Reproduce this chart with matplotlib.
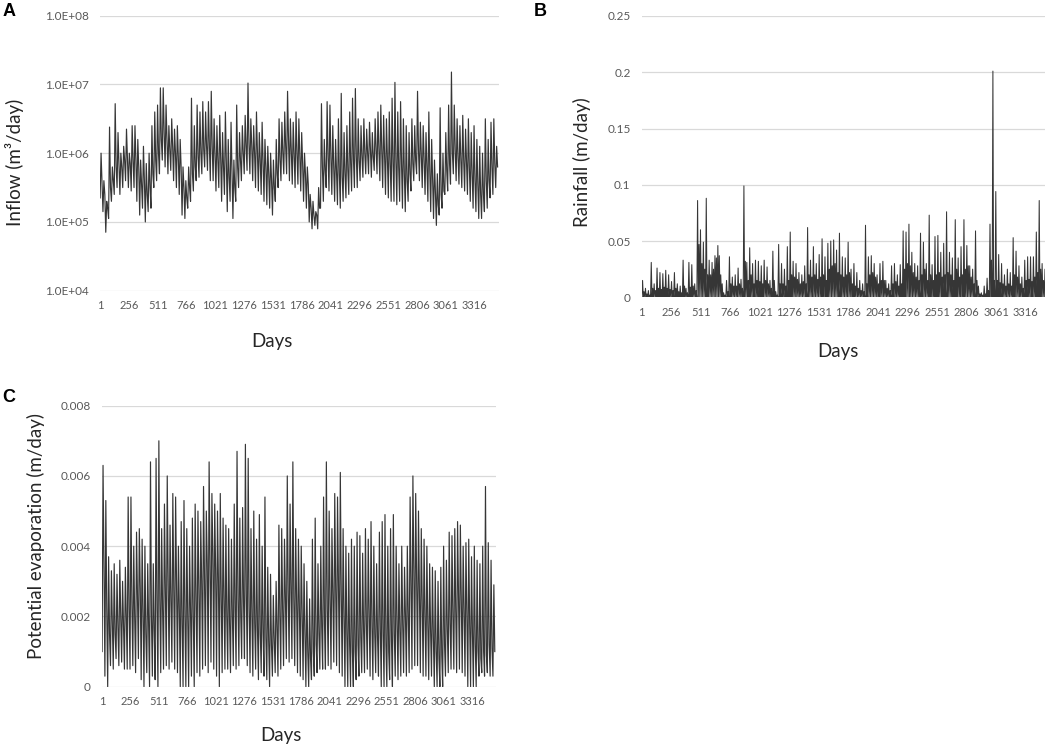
import numpy as np
from matplotlib import pyplot as plt
from matplotlib.ticker import FuncFormatter

plt.rcParams['font.family'] = ['Lato', 'DejaVu Sans']

# values, one entry per 25-day block
# inflow, log10(m3/day): low, high and typical level in each block
inflow_lo = [5.35, 5.15, 4.85, 5.05, 5.3, 5.4, 5.5, 5.4, 5.5, 5.6,
             5.5, 5.45, 5.5, 5.3, 5.1, 5.2, 5.0, 5.15, 5.2, 5.5,
             5.6, 5.7, 5.9, 5.8, 5.7, 5.75, 5.6, 5.5, 5.4, 5.1,
             5.05, 5.2, 5.3, 5.45, 5.6, 5.65, 5.7, 5.8, 5.75, 5.6,
             5.6, 5.45, 5.5, 5.3, 5.4, 5.15, 5.3, 5.05, 5.3, 5.5,
             5.6, 5.7, 5.75, 5.7, 5.6, 5.5, 5.45, 5.4, 5.3, 5.25,
             5.2, 5.1, 5.3, 5.5, 5.6, 5.7, 5.7, 5.6, 5.55, 5.5,
             5.55, 5.45, 5.3, 5.2, 5.0, 4.9, 4.95, 4.9, 5.2, 5.3,
             5.5, 5.45, 5.4, 5.3, 5.25, 5.2, 5.3, 5.35, 5.4, 5.45,
             5.5, 5.5, 5.6, 5.65, 5.7, 5.7, 5.65, 5.75, 5.7, 5.6,
             5.5, 5.4, 5.35, 5.3, 5.3, 5.25, 5.3, 5.2, 5.15, 5.3,
             5.45, 5.6, 5.7, 5.6, 5.5, 5.4, 5.3, 5.15, 5.05, 4.95,
             5.1, 5.2, 5.4, 5.45, 5.55, 5.7, 5.6, 5.55, 5.5, 5.45,
             5.4, 5.3, 5.2, 5.15, 5.05, 5.05, 5.15, 5.2, 5.35, 5.4, 5.5]
inflow_hi = [6.0, 5.6, 5.3, 6.38, 5.8, 6.72, 6.3, 6.0, 6.1, 6.35,
             6.0, 6.4, 6.4, 6.2, 5.9, 6.1, 5.85, 6.0, 6.4, 6.6,
             6.7, 6.95, 6.95, 6.7, 6.4, 6.5, 6.35, 6.4, 6.2, 5.8,
             5.6, 5.8, 6.8, 6.4, 6.7, 6.6, 6.75, 6.6, 6.75, 6.9,
             6.5, 6.4, 6.55, 6.3, 6.6, 6.2, 6.45, 5.9, 6.7, 6.3,
             6.4, 6.55, 7.02, 6.5, 6.4, 6.6, 6.3, 6.45, 6.2, 6.1,
             6.0, 5.9, 6.2, 6.5, 6.45, 6.6, 6.9, 6.5, 6.45, 6.6,
             6.5, 6.3, 6.0, 5.8, 5.4, 5.3, 5.15, 5.5, 6.72, 6.2,
             6.75, 6.7, 6.4, 6.2, 6.5, 6.87, 6.3, 6.4, 6.6, 6.8,
             6.94, 6.5, 6.4, 6.5, 6.35, 6.45, 6.3, 6.5, 6.6, 6.7,
             6.55, 6.5, 6.6, 6.8, 7.03, 6.6, 6.75, 6.5, 6.4, 6.3,
             6.5, 6.4, 6.9, 6.45, 6.4, 6.3, 6.6, 6.2, 5.9, 5.7,
             6.66, 6.0, 6.3, 6.7, 7.18, 6.7, 6.5, 6.4, 6.55, 6.35,
             6.5, 6.3, 6.4, 6.2, 6.1, 6.0, 6.5, 6.2, 6.45, 6.5, 6.1]
inflow_mid = [5.55, 5.4, 5.2, 5.5, 5.6, 5.8, 5.85, 5.8, 5.9, 5.9,
              5.85, 5.9, 5.9, 5.8, 5.55, 5.6, 5.4, 5.5, 5.7, 5.9,
              6.0, 6.2, 6.3, 6.2, 6.05, 6.1, 6.0, 5.95, 5.8, 5.5,
              5.35, 5.5, 5.7, 5.8, 5.95, 6.0, 6.05, 6.1, 6.1, 6.1,
              6.0, 5.9, 5.9, 5.8, 5.9, 5.65, 5.75, 5.5, 5.8, 5.9,
              6.0, 6.1, 6.15, 6.1, 6.0, 6.0, 5.9, 5.85, 5.8, 5.7,
              5.6, 5.5, 5.7, 5.9, 6.0, 6.1, 6.2, 6.05, 6.0, 6.0,
              5.95, 5.85, 5.7, 5.55, 5.2, 5.1, 5.1, 5.2, 5.8, 5.75,
              5.95, 5.95, 5.8, 5.7, 5.7, 5.65, 5.7, 5.75, 5.85, 5.9,
              5.95, 5.9, 5.95, 6.0, 6.0, 6.05, 5.95, 6.05, 6.05, 6.05,
              5.95, 5.9, 5.85, 5.85, 5.9, 5.8, 5.85, 5.7, 5.6, 5.7,
              5.85, 5.9, 6.05, 5.95, 5.9, 5.8, 5.75, 5.6, 5.4, 5.25,
              5.4, 5.45, 5.75, 5.85, 6.0, 6.05, 5.95, 5.9, 5.9, 5.85,
              5.8, 5.7, 5.6, 5.55, 5.4, 5.4, 5.6, 5.6, 5.8, 5.85, 5.8]

# rainfall, m/day: tallest event and typical wet-day level per block
rain_peak = [0.015, 0.008, 0.006, 0.031, 0.012, 0.026, 0.022, 0.021, 0.024, 0.02,
             0.014, 0.022, 0.012, 0.01, 0.033, 0.008, 0.031, 0.029, 0.012, 0.086,
             0.06, 0.049, 0.088, 0.033, 0.031, 0.037, 0.046, 0.02, 0.004, 0.015,
             0.036, 0.018, 0.02, 0.026, 0.016, 0.099, 0.031, 0.044, 0.03, 0.033,
             0.032, 0.028, 0.033, 0.027, 0.015, 0.041, 0.005, 0.047, 0.03, 0.025,
             0.045, 0.058, 0.032, 0.03, 0.022, 0.02, 0.028, 0.062, 0.033, 0.045,
             0.03, 0.038, 0.052, 0.036, 0.048, 0.05, 0.051, 0.042, 0.057, 0.036,
             0.035, 0.049, 0.025, 0.03, 0.022, 0.015, 0.012, 0.064, 0.036, 0.037,
             0.03, 0.02, 0.03, 0.032, 0.015, 0.012, 0.028, 0.03, 0.02, 0.029,
             0.059, 0.058, 0.065, 0.04, 0.03, 0.028, 0.057, 0.049, 0.03, 0.073,
             0.029, 0.054, 0.055, 0.04, 0.048, 0.076, 0.04, 0.035, 0.069, 0.035,
             0.045, 0.069, 0.046, 0.028, 0.025, 0.059, 0.01, 0.004, 0.01, 0.017,
             0.065, 0.201, 0.094, 0.038, 0.03, 0.02, 0.025, 0.022, 0.053, 0.041,
             0.028, 0.018, 0.033, 0.036, 0.036, 0.036, 0.058, 0.086, 0.03, 0.025, 0.02]
rain_core = [0.005, 0.003, 0.002, 0.008, 0.006, 0.008, 0.007, 0.009, 0.008, 0.007,
             0.006, 0.008, 0.005, 0.004, 0.01, 0.004, 0.009, 0.01, 0.006, 0.047,
             0.03, 0.025, 0.02, 0.02, 0.025, 0.035, 0.037, 0.012, 0.002, 0.005,
             0.012, 0.01, 0.01, 0.012, 0.008, 0.032, 0.015, 0.02, 0.012, 0.015,
             0.014, 0.012, 0.015, 0.012, 0.008, 0.015, 0.002, 0.012, 0.012, 0.01,
             0.015, 0.02, 0.018, 0.016, 0.012, 0.014, 0.012, 0.02, 0.018, 0.02,
             0.016, 0.018, 0.02, 0.015, 0.025, 0.028, 0.03, 0.022, 0.02, 0.018,
             0.02, 0.022, 0.012, 0.01, 0.008, 0.006, 0.005, 0.012, 0.02, 0.022,
             0.018, 0.012, 0.015, 0.015, 0.008, 0.006, 0.012, 0.014, 0.01, 0.012,
             0.025, 0.03, 0.028, 0.022, 0.018, 0.015, 0.02, 0.025, 0.015, 0.02,
             0.015, 0.02, 0.022, 0.018, 0.02, 0.022, 0.02, 0.015, 0.025, 0.018,
             0.02, 0.025, 0.028, 0.018, 0.012, 0.015, 0.003, 0.002, 0.003, 0.006,
             0.033, 0.015, 0.015, 0.013, 0.012, 0.01, 0.012, 0.01, 0.02, 0.018,
             0.012, 0.008, 0.015, 0.016, 0.014, 0.018, 0.022, 0.025, 0.015, 0.012, 0.01]

# potential evaporation, m/day
evap_lo = [0.0010, 0.0003, 0.0000, 0.0006, 0.0005, 0.0008, 0.0006, 0.0007, 0.0005, 0.0005,
           0.0005, 0.0006, 0.0004, 0.0008, 0.0002, 0.0000, 0.0004, 0.0000, 0.0003, 0.0002,
           0.0000, 0.0004, 0.0005, 0.0006, 0.0005, 0.0007, 0.0005, 0.0004, 0.0000, 0.0000,
           0.0000, 0.0000, 0.0003, 0.0000, 0.0004, 0.0003, 0.0005, 0.0006, 0.0004, 0.0007,
           0.0005, 0.0003, 0.0000, 0.0004, 0.0005, 0.0005, 0.0004, 0.0006, 0.0005, 0.0006,
           0.0008, 0.0008, 0.0006, 0.0004, 0.0003, 0.0005, 0.0002, 0.0004, 0.0003, 0.0002,
           0.0000, 0.0003, 0.0004, 0.0003, 0.0005, 0.0006, 0.0008, 0.0007, 0.0008, 0.0006,
           0.0004, 0.0003, 0.0002, 0.0000, 0.0000, 0.0002, 0.0003, 0.0004, 0.0005, 0.0005,
           0.0005, 0.0006, 0.0005, 0.0007, 0.0006, 0.0004, 0.0003, 0.0000, 0.0000, 0.0000,
           0.0000, 0.0002, 0.0003, 0.0004, 0.0004, 0.0005, 0.0003, 0.0002, 0.0004, 0.0003,
           0.0000, 0.0000, 0.0000, 0.0002, 0.0000, 0.0003, 0.0002, 0.0003, 0.0004, 0.0003,
           0.0004, 0.0005, 0.0006, 0.0006, 0.0004, 0.0003, 0.0003, 0.0002, 0.0003, 0.0000,
           0.0000, 0.0000, 0.0000, 0.0003, 0.0004, 0.0005, 0.0005, 0.0004, 0.0005, 0.0004,
           0.0003, 0.0000, 0.0000, 0.0000, 0.0000, 0.0003, 0.0004, 0.0003, 0.0004, 0.0003, 0.0003]
evap_hi = [0.0063, 0.0053, 0.0037, 0.0033, 0.0035, 0.0032, 0.0036, 0.0030, 0.0034, 0.0054,
           0.0054, 0.0040, 0.0044, 0.0045, 0.0042, 0.0040, 0.0035, 0.0064, 0.0035, 0.0065,
           0.0070, 0.0045, 0.0052, 0.0060, 0.0046, 0.0055, 0.0054, 0.0040, 0.0047, 0.0053,
           0.0045, 0.0040, 0.0048, 0.0052, 0.0050, 0.0047, 0.0057, 0.0050, 0.0064, 0.0055,
           0.0052, 0.0050, 0.0055, 0.0048, 0.0046, 0.0045, 0.0042, 0.0052, 0.0067, 0.0048,
           0.0051, 0.0069, 0.0065, 0.0045, 0.0050, 0.0042, 0.0049, 0.0040, 0.0054, 0.0034,
           0.0032, 0.0026, 0.0030, 0.0046, 0.0045, 0.0042, 0.0060, 0.0052, 0.0064, 0.0045,
           0.0042, 0.0040, 0.0035, 0.0030, 0.0025, 0.0042, 0.0048, 0.0035, 0.0040, 0.0054,
           0.0064, 0.0050, 0.0045, 0.0055, 0.0054, 0.0061, 0.0045, 0.0040, 0.0038, 0.0042,
           0.0040, 0.0044, 0.0043, 0.0038, 0.0045, 0.0042, 0.0047, 0.0040, 0.0035, 0.0044,
           0.0047, 0.0049, 0.0040, 0.0045, 0.0049, 0.0040, 0.0035, 0.0040, 0.0034, 0.0040,
           0.0054, 0.0060, 0.0055, 0.0050, 0.0045, 0.0042, 0.0040, 0.0035, 0.0034, 0.0033,
           0.0030, 0.0034, 0.0040, 0.0036, 0.0044, 0.0043, 0.0045, 0.0047, 0.0046, 0.0040,
           0.0041, 0.0042, 0.0037, 0.0040, 0.0036, 0.0035, 0.0040, 0.0057, 0.0041, 0.0036, 0.0029]
evap_mid = [0.0035, 0.0022, 0.0015, 0.0018, 0.0015, 0.0017, 0.0020, 0.0018, 0.0020, 0.0022,
            0.0024, 0.0020, 0.0025, 0.0028, 0.0022, 0.0015, 0.0018, 0.0020, 0.0016, 0.0022,
            0.0025, 0.0022, 0.0027, 0.0030, 0.0025, 0.0028, 0.0030, 0.0022, 0.0018, 0.0020,
            0.0020, 0.0022, 0.0020, 0.0025, 0.0028, 0.0030, 0.0032, 0.0035, 0.0035, 0.0038,
            0.0033, 0.0030, 0.0026, 0.0025, 0.0020, 0.0018, 0.0020, 0.0022, 0.0025, 0.0020,
            0.0024, 0.0026, 0.0022, 0.0020, 0.0018, 0.0016, 0.0015, 0.0015, 0.0014, 0.0013,
            0.0012, 0.0013, 0.0016, 0.0020, 0.0022, 0.0025, 0.0027, 0.0028, 0.0025, 0.0024,
            0.0022, 0.0020, 0.0015, 0.0010, 0.0008, 0.0010, 0.0012, 0.0015, 0.0017, 0.0018,
            0.0022, 0.0025, 0.0026, 0.0028, 0.0029, 0.0027, 0.0020, 0.0015, 0.0012, 0.0010,
            0.0010, 0.0012, 0.0014, 0.0016, 0.0018, 0.0020, 0.0017, 0.0015, 0.0014, 0.0016,
            0.0015, 0.0012, 0.0010, 0.0013, 0.0015, 0.0018, 0.0016, 0.0018, 0.0020, 0.0020,
            0.0028, 0.0032, 0.0030, 0.0026, 0.0024, 0.0020, 0.0018, 0.0016, 0.0014, 0.0010,
            0.0008, 0.0009, 0.0012, 0.0016, 0.0018, 0.0020, 0.0022, 0.0025, 0.0024, 0.0022,
            0.0020, 0.0018, 0.0015, 0.0012, 0.0010, 0.0008, 0.0010, 0.0009, 0.0012, 0.0011, 0.0010]

day_ticks = list(range(1, 3317, 255))
n_days = 3531
block = 25

line_col = '#363636'
grid_col = '#d9d9d9'
tick_col = '#595959'


def block_series(*cols):
    # lay the per-block readings out in time order inside each block
    vals = np.column_stack(cols).ravel()
    k = len(cols)
    nb = len(cols[0])
    step = block / k
    days = (np.arange(nb)[:, None] * block + 2 + np.arange(k)[None, :] * step).ravel()
    return days, vals


def style(ax, yticks, fmt):
    ax.set_xlim(1, n_days)
    ax.set_yticks(yticks)
    ax.yaxis.set_major_formatter(FuncFormatter(fmt))
    ax.set_xticks(day_ticks)
    ax.set_xticklabels([str(d) for d in day_ticks])
    ax.grid(axis='y', color=grid_col, lw=0.9)
    ax.set_axisbelow(True)
    for s in ax.spines.values():
        s.set_visible(False)
    ax.tick_params(length=0, labelcolor=tick_col)
    ax.tick_params(axis='y', pad=8, labelsize=8.5)
    ax.tick_params(axis='x', pad=7, labelsize=8)


fig = plt.figure(figsize=(10.45, 7.5), dpi=100)

# A: inflow
axA = fig.add_axes([0.0957, 0.6124, 0.3818, 0.3667])
d, v = block_series(inflow_lo, inflow_hi, inflow_mid)
axA.plot(d, 10 ** v, color=line_col, lw=0.85)
axA.set_yscale('log')
axA.set_ylim(1e4, 1e8)
axA.minorticks_off()
style(axA, [1e4, 1e5, 1e6, 1e7, 1e8], lambda y, p: '%.1E' % y)

# B: rainfall
axB = fig.add_axes([0.6141, 0.6036, 0.3912, 0.3751])
zeros = [0.0] * len(rain_peak)
d, v = block_series(zeros, rain_peak, zeros, rain_core)
axB.plot(d, v, color=line_col, lw=0.75)
axB.set_ylim(0, 0.25)
style(axB, [0, 0.05, 0.1, 0.15, 0.2, 0.25], lambda y, p: '%g' % y)

# C: potential evaporation
axC = fig.add_axes([0.0976, 0.0844, 0.3772, 0.3747])
d, v = block_series(evap_lo, evap_hi, evap_mid)
axC.plot(d, v, color=line_col, lw=0.85)
axC.set_ylim(0, 0.008)
style(axC, [0, 0.002, 0.004, 0.006, 0.008], lambda y, p: '%g' % y)

W, H = 1045.0, 750.0
lab = dict(fontsize=13.5, color='#262626', ha='center', va='center')
fig.text(272 / W, 1 - 342 / H, 'Days', **lab)
fig.text(838 / W, 1 - 351 / H, 'Days', **lab)
fig.text(281 / W, 1 - 736 / H, 'Days', **lab)
fig.text(15 / W, 1 - 162 / H, 'Inflow (m³/day)', rotation=90, **lab)
fig.text(582 / W, 1 - 162 / H, 'Rainfall (m/day)', rotation=90, **lab)
fig.text(36 / W, 1 - 536 / H, 'Potential evaporation (m/day)', rotation=90, **lab)

let = dict(fontsize=13, fontweight='bold', family='Liberation Sans', ha='center', va='center')
fig.text(9 / W, 1 - 11 / H, 'A', **let)
fig.text(540 / W, 1 - 11 / H, 'B', **let)
fig.text(9 / W, 1 - 397 / H, 'C', **let)

fig.savefig('out.png', dpi=100)
